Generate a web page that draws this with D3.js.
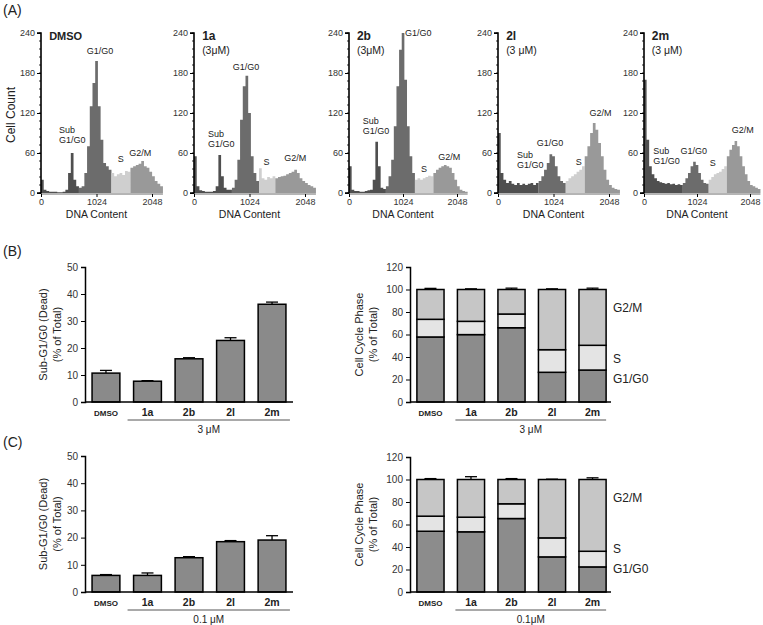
<!DOCTYPE html>
<html><head><meta charset="utf-8">
<script src="https://cdn.jsdelivr.net/npm/d3@7"></script>
<style>
body{margin:0;background:#fff;}
svg{font-family:"Liberation Sans",Arial,sans-serif;}
</style></head>
<body><svg id="c" width="763" height="625"></svg>
<script>
// ---------- DATA ----------
const histNames = ["DMSO","1a","2b","2l","2m"];
const histSub = ["","(3\u03bcM)","(3\u03bcM)","(3 \u03bcM)","(3 \u03bcM)"];
const binWidth = 50; // DNA content units per bin
const histDMSO = [20,5,3,2,2,2,1,1,2,5,30,60,20,10,8,10,30,70,130,165,198,130,80,45,40,35,30,25,28,30,27,33,32,38,40,42,44,48,40,38,32,25,18,14,10];
const hist1a   = [55,10,4,3,2,2,2,3,10,57,25,8,5,5,8,20,50,110,160,176,120,55,30,18,37,22,20,24,22,25,22,24,25,26,28,30,32,35,30,22,18,15,12,10,8];
const hist2b   = [40,5,3,3,2,2,3,4,5,20,77,40,8,6,10,25,50,100,160,215,240,170,100,55,30,20,22,20,22,24,26,25,30,35,38,40,42,40,38,30,20,10,5,3,2];
const hist2l   = [90,30,20,15,18,14,12,15,12,14,12,14,15,12,15,18,25,35,45,58,55,40,25,18,15,18,22,25,28,32,35,40,55,70,90,105,95,75,55,35,20,12,8,6,5];
const hist2m   = [170,80,40,28,22,18,16,15,14,15,13,14,12,13,12,15,22,30,40,47,42,30,20,15,14,20,24,28,30,32,36,40,55,65,72,78,70,55,40,28,18,12,10,8,6];
// phase gate boundaries [subG1 end, G1 end, S end] in DNA content units
const gateDMSO = [700,1300,1650];
const gate1a   = [700,1200,1500];
const gate2b   = [700,1250,1600];
const gate2l   = [750,1250,1600];
const gate2m   = [750,1250,1600];
const histTicksY = [0,60,120,180,240];
const histTicksX = [0,1024,2048];

const categories = ["DMSO","1a","2b","2l","2m"];
// (B) 3 uM
const deadB = [10.7,7.7,16.0,22.8,36.2];
const deadErrB = [1.0,0.2,0.4,1.0,0.8];
const g1B = [57.8,59.9,66.0,26.4,28.4];
const sB  = [15.7,11.8,12.2,20.1,22.0];
const g2B = [26.5,28.3,21.8,53.5,49.6];
const phaseErrB = [1.0,0.6,1.2,0.6,1.2];
// (C) 0.1 uM
const deadC = [6.1,6.1,12.6,18.5,19.1];
const deadErrC = [0.3,0.9,0.4,0.4,1.6];
const g1C = [54.0,53.5,65.3,31.2,22.3];
const sC  = [13.4,13.0,13.1,16.9,13.9];
const g2C = [32.6,33.5,21.6,51.9,63.8];
const phaseErrC = [0.8,2.5,0.8,0.3,1.5];
const deadTicks = [0,10,20,30,40,50];
const phaseTicks = [0,20,40,60,80,100,120];
const phaseNames = ["G1/G0","S","G2/M"];

// ---------- DRAW ----------
const svg = d3.select("#c");
const FONT = "Liberation Sans, Arial, sans-serif";

function txt(g,x,y,s,opt={}){
  const t=g.append("text").attr("x",x).attr("y",y).text(s)
    .attr("font-size",opt.size||10).attr("fill","#222")
    .attr("text-anchor",opt.anchor||"start");
  if(opt.bold) t.attr("font-weight","bold");
  if(opt.rot) t.attr("transform",`rotate(-90,${x},${y})`);
  return t;
}

// Panel letters
txt(svg,3,15,"(A)",{size:14});
txt(svg,3,256,"(B)",{size:14});
txt(svg,3,447,"(C)",{size:14});

// ----- Histograms -----
const histData = [histDMSO,hist1a,hist2b,hist2l,hist2m];
const gates = [gateDMSO,gate1a,gate2b,gate2l,gate2m];
const origins = [41,194,349,498,644];
const widths2048 = [111,111,108,111,106];
const hy = d3.scaleLinear().domain([0,240]).range([193,33]);
const phaseColors = ["#4f4f4f","#6c6c6c","#cfcfcf","#999999"];
// annotation: [text, DNA content, count, anchor]
const annots = [
  [["G1/G0",1090,208,"middle"],["Sub",330,90,"start"],["G1/G0",330,75,"start"],["S",1470,46,"middle"],["G2/M",1830,56,"middle"]],
  [["G1/G0",960,185,"middle"],["Sub",260,84,"start"],["G1/G0",260,69,"start"],["S",1340,42,"middle"],["G2/M",1870,48,"middle"]],
  [["G1/G0",1060,236,"start"],["Sub",260,103,"start"],["G1/G0",260,88,"start"],["S",1420,32,"middle"],["G2/M",1900,50,"middle"]],
  [["Sub",350,52,"start"],["G1/G0",350,37,"start"],["G1/G0",960,70,"middle"],["S",1490,42,"middle"],["G2/M",1890,115,"middle"]],
  [["Sub",180,58,"start"],["G1/G0",180,43,"start"],["G1/G0",960,59,"middle"],["S",1330,41,"middle"],["G2/M",1910,90,"middle"]]
];

histNames.forEach((name,i)=>{
  const hx = d3.scaleLinear().domain([0,2048]).range([0,widths2048[i]]);
  const g = svg.append("g").attr("transform",`translate(${origins[i]},0)`);
  const vals = histData[i], gate = gates[i];
  const bounds = [0,gate[0],gate[1],gate[2],vals.length*binWidth];
  const area = d3.area().curve(d3.curveStepAfter).x(d=>hx(d[0])).y0(hy(0)).y1(d=>hy(d[1]));
  for(let r=0;r<4;r++){
    const pts = [];
    vals.forEach((v,j)=>{const c=j*binWidth; if(c>=bounds[r]&&c<bounds[r+1]) pts.push([c,v]);});
    if(!pts.length) continue;
    pts.push([pts[pts.length-1][0]+binWidth, pts[pts.length-1][1]]);
    g.append("path").datum(pts).attr("d",area).attr("fill",phaseColors[r]);
  }
  // y axis
  const ya = d3.axisLeft(hy).tickValues(histTicksY).tickSize(4).tickPadding(2);
  const yg = g.append("g").call(ya);
  yg.select(".domain").attr("stroke-width",1.6).attr("d",`M-4,${hy(240)}H0V${hy(0)}H-4`);
  yg.selectAll("text").attr("font-size",9).attr("font-family",FONT).attr("fill","#333");
  g.append("g").selectAll("line").data(d3.range(0,241,12)).join("line")
    .attr("x1",-2).attr("x2",0).attr("y1",d=>hy(d)).attr("y2",d=>hy(d)).attr("stroke","#000").attr("stroke-width",0.8);
  // x axis
  const xa = d3.axisBottom(hx).tickValues(histTicksX).tickFormat(d3.format("d")).tickSize(3).tickPadding(2);
  const xg = g.append("g").attr("transform",`translate(0,${hy(0)+1})`).call(xa);
  xg.select(".domain").attr("d",`M0,0H${hx(2250)}`).attr("stroke","#444").attr("stroke-width",0.8);
  xg.selectAll("text").attr("font-size",9).attr("font-family",FONT).attr("fill","#333");
  txt(g,hx(1024),218,"DNA Content",{size:10.5,anchor:"middle"});
  // titles
  txt(g,hx(150),40,name,{size:name==="DMSO"?11:12,bold:true});
  if(histSub[i]) txt(g,hx(150),54,histSub[i],{size:10.5});
  annots[i].forEach(a=>txt(g,hx(a[1]),hy(a[2]),a[0],{size:9,anchor:a[3]}));
});
txt(svg,15,115,"Cell Count",{size:12,anchor:"middle",rot:true});

// ----- Bar charts -----
function deadChart(y0,y1,vals,errs,conc){
  const x = d3.scaleBand().domain(categories).range([85,293]).paddingInner(0.33).paddingOuter(0.17);
  const y = d3.scaleLinear().domain([0,50]).range([y0,y1]);
  const g = svg.append("g");
  g.selectAll("line.err").data(vals).join("line")
    .attr("x1",(d,i)=>x(categories[i])+x.bandwidth()/2).attr("x2",(d,i)=>x(categories[i])+x.bandwidth()/2)
    .attr("y1",d=>y(d)).attr("y2",(d,i)=>y(d+errs[i])).attr("stroke","#000").attr("stroke-width",1.3);
  g.selectAll("line.cap").data(vals).join("line")
    .attr("x1",(d,i)=>x(categories[i])+x.bandwidth()/2-6).attr("x2",(d,i)=>x(categories[i])+x.bandwidth()/2+6)
    .attr("y1",(d,i)=>y(d+errs[i])).attr("y2",(d,i)=>y(d+errs[i])).attr("stroke","#000").attr("stroke-width",1.3);
  g.selectAll("rect").data(vals).join("rect")
    .attr("x",(d,i)=>x(categories[i])).attr("width",x.bandwidth())
    .attr("y",d=>y(d)).attr("height",d=>y(0)-y(d))
    .attr("fill","#8a8a8a").attr("stroke","#000").attr("stroke-width",1.5);
  const ya=d3.axisLeft(y).tickValues(deadTicks).tickSize(4).tickPadding(3);
  const yg=g.append("g").attr("transform","translate(85,0)").call(ya);
  yg.select(".domain").attr("stroke-width",1.5);
  yg.selectAll("text").attr("font-size",10).attr("font-family",FONT).attr("fill","#333");
  g.append("line").attr("x1",85).attr("x2",293).attr("y1",y0).attr("y2",y0).attr("stroke","#000").attr("stroke-width",1.5);
  categories.forEach(c=>txt(g,x(c)+x.bandwidth()/2,y0+14,c,{size:c==="DMSO"?8:10.5,bold:true,anchor:"middle"}));
  const lx0=x("1a")-6, lx1=x("2m")+x.bandwidth()+4;
  g.append("line").attr("x1",lx0).attr("x2",lx1).attr("y1",y0+18).attr("y2",y0+18).attr("stroke","#555").attr("stroke-width",1);
  txt(g,(lx0+lx1)/2,y0+31,conc,{size:10,anchor:"middle"});
  const cy=(y0+y1)/2;
  txt(g,47,cy,"Sub-G1/G0 (Dead)",{size:11,anchor:"middle",rot:true});
  txt(g,61,cy,"(% of Total)",{size:11,anchor:"middle",rot:true});
}
function phaseChart(y0,y1,g1,s,g2,errs,conc){
  const x = d3.scaleBand().domain(categories).range([410,613]).paddingInner(0.33).paddingOuter(0.17);
  const y = d3.scaleLinear().domain([0,120]).range([y0,y1]);
  const g = svg.append("g");
  const rows = categories.map((c,i)=>({c,g1:g1[i],s:s[i],g2:g2[i]}));
  const stack = d3.stack().keys(["g1","s","g2"])(rows);
  const fills = ["#8c8c8c","#e4e4e4","#c6c6c6"];
  const tot = rows.map(r=>r.g1+r.s+r.g2);
  g.selectAll("line.err").data(tot).join("line")
    .attr("x1",(d,i)=>x(categories[i])+x.bandwidth()/2).attr("x2",(d,i)=>x(categories[i])+x.bandwidth()/2)
    .attr("y1",d=>y(d)).attr("y2",(d,i)=>y(d+errs[i])).attr("stroke","#000").attr("stroke-width",1.3);
  g.selectAll("line.cap").data(tot).join("line")
    .attr("x1",(d,i)=>x(categories[i])+x.bandwidth()/2-6).attr("x2",(d,i)=>x(categories[i])+x.bandwidth()/2+6)
    .attr("y1",(d,i)=>y(d+errs[i])).attr("y2",(d,i)=>y(d+errs[i])).attr("stroke","#000").attr("stroke-width",1.3);
  stack.forEach((layer,k)=>{
    g.selectAll(null).data(layer).join("rect")
      .attr("x",d=>x(d.data.c)).attr("width",x.bandwidth())
      .attr("y",d=>y(d[1])).attr("height",d=>y(d[0])-y(d[1]))
      .attr("fill",fills[k]).attr("stroke","#000").attr("stroke-width",1.5);
  });
  const ya=d3.axisLeft(y).tickValues(phaseTicks).tickSize(4).tickPadding(3);
  const yg=g.append("g").attr("transform","translate(410,0)").call(ya);
  yg.select(".domain").attr("stroke-width",1.5);
  yg.selectAll("text").attr("font-size",10).attr("font-family",FONT).attr("fill","#333");
  g.append("line").attr("x1",410).attr("x2",611).attr("y1",y0).attr("y2",y0).attr("stroke","#000").attr("stroke-width",1.5);
  categories.forEach(c=>txt(g,x(c)+x.bandwidth()/2,y0+14,c,{size:c==="DMSO"?8:10.5,bold:true,anchor:"middle"}));
  const lx0=x("1a")-2, lx1=x("2m")+x.bandwidth();
  g.append("line").attr("x1",lx0).attr("x2",lx1).attr("y1",y0+18).attr("y2",y0+18).attr("stroke","#555").attr("stroke-width",1);
  txt(g,(lx0+lx1)/2,y0+31,conc,{size:10,anchor:"middle"});
  const cy=(y0+y1)/2;
  txt(g,363,cy,"Cell Cycle Phase",{size:11,anchor:"middle",rot:true});
  txt(g,377,cy,"(% of Total)",{size:11,anchor:"middle",rot:true});
  // phase labels
  txt(g,613,y(22)+6,phaseNames[0],{size:12});
  txt(g,613,y(40)+6,phaseNames[1],{size:12});
  txt(g,613,y(85)+6,phaseNames[2],{size:12});
  return y;
}
deadChart(402,267,deadB,deadErrB,"3 \u03bcM");
phaseChart(402,267,g1B,sB,g2B,phaseErrB,"3 \u03bcM");
deadChart(592,456,deadC,deadErrC,"0.1 \u03bcM");
phaseChart(592,457,g1C,sC,g2C,phaseErrC,"0.1\u03bcM");
</script></body></html>
